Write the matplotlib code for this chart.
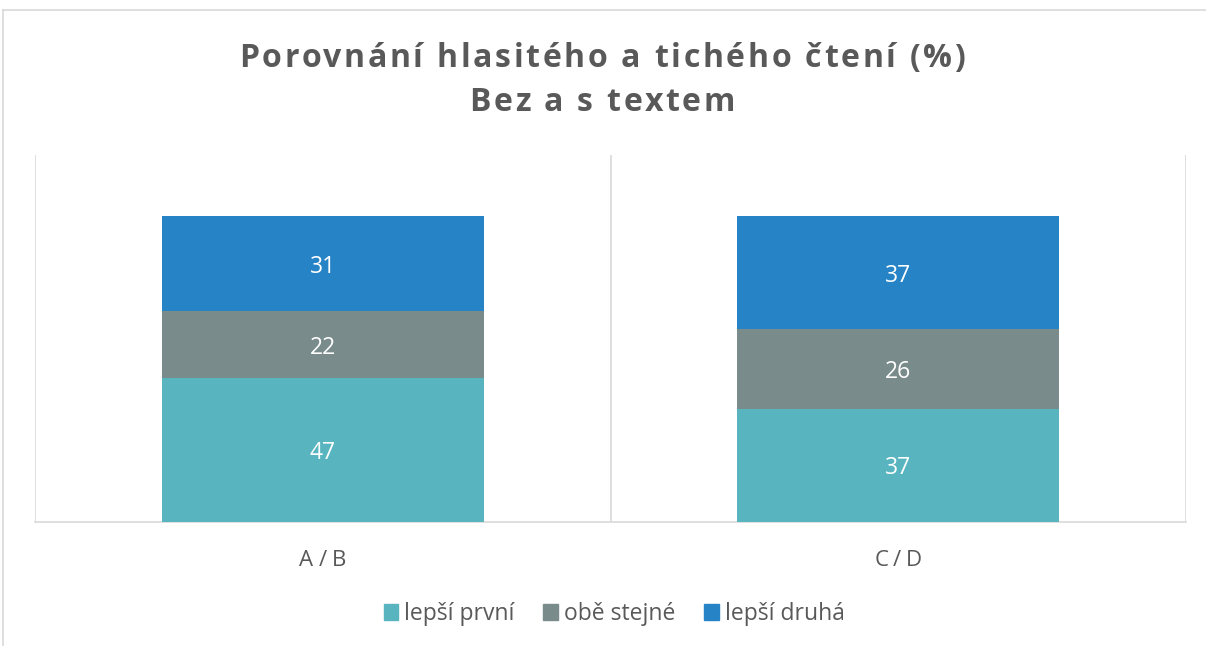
import matplotlib
matplotlib.use("Agg")
import matplotlib.pyplot as plt
from matplotlib.font_manager import FontProperties
from matplotlib.lines import Line2D
from matplotlib.patches import Rectangle

categories = ["A/B", "C/D"]
series_names = ["lepší první", "obě stejné", "lepší druhá"]
lepsi_prvni = [47, 37]
obe_stejne = [22, 26]
lepsi_druha = [31, 37]
series_values = [lepsi_prvni, obe_stejne, lepsi_druha]
colors = ["#58B5C0", "#7A8B8C", "#2683C6"]
title_lines = ["Porovnání hlasitého a tichého čtení (%)", "Bez a s textem"]

W, H = 1206, 646
fig = plt.figure(figsize=(W / 100, H / 100), dpi=100)
fig.patch.set_facecolor("white")

ax = fig.add_axes([35 / W, (H - 522) / H, (1186 - 35) / W, (522 - 155) / H])
x = list(range(len(categories)))
bottom = [0] * len(categories)
for name, vals, col in zip(series_names, series_values, colors):
    bars = ax.bar(x, vals, width=0.56, bottom=bottom, color=col, label=name, zorder=3)
    for b, v, bt in zip(bars, vals, bottom):
        ax.text(b.get_x() + b.get_width() / 2, bt + v / 2, str(v), ha="center", va="center_baseline",
                color="white", fontsize=16.5, family="Open Sans", zorder=4)
    bottom = [a + v for a, v in zip(bottom, vals)]

ax.set_xlim(-0.5, len(categories) - 0.5)
ax.set_ylim(0, 120)
ax.set_yticks([])
ax.set_xticks([])
for s in ["top", "left", "right"]:
    ax.spines[s].set_visible(False)
ax.spines["bottom"].set_color("#D9D9D9")
ax.spines["bottom"].set_linewidth(1.2)
for gx in [i - 0.5 for i in range(len(categories) + 1)]:
    ax.axvline(gx, color="#D9D9D9", lw=1.2, zorder=1)

renderer = fig.canvas.get_renderer()


def spaced_text(s, cx, cy, fp, track, color):
    widths = [renderer.get_text_width_height_descent(s[:i], fp, ismath=False)[0] if i else 0
              for i in range(len(s) + 1)]
    total = widths[-1] + track * (len(s) - 1)
    x0 = cx - total / 2
    for i, ch in enumerate(s):
        if ch == " ":
            continue
        fig.text((x0 + widths[i] + track * i) / W, 1 - cy / H, ch, fontproperties=fp,
                 color=color, ha="left", va="baseline")


tfp = FontProperties(family="Open Sans", weight="bold", size=23)
spaced_text(title_lines[0], W / 2 - 1, 67, tfp, 2.7, "#595959")
spaced_text(title_lines[1], W / 2 - 1, 111, tfp, 2.7, "#595959")

lfp = FontProperties(family="Open Sans", size=16)
for i, c in enumerate(categories):
    px = ax.transData.transform((i, 0))[0]
    spaced_text(c, px, 566, lfp, 5, "#595959")

handles = [Rectangle((0, 0), 1, 1, color=c) for c in colors]
leg = fig.legend(handles, series_names, loc="center", bbox_to_anchor=(614 / W, 1 - 614 / H),
                 ncol=3, frameon=False, handlelength=0.65, handleheight=0.65,
                 handletextpad=0.25, columnspacing=1.25, prop={"family": "Open Sans", "size": 16.5})
for t in leg.get_texts():
    t.set_color("#595959")

fig.add_artist(Line2D([3 / W, 1], [1 - 10 / H, 1 - 10 / H], color="#D9D9D9", lw=1.2))
fig.add_artist(Line2D([3 / W, 3 / W], [0, 1 - 10 / H], color="#D9D9D9", lw=1.2))

fig.savefig("out.png", dpi=100, facecolor="white")
